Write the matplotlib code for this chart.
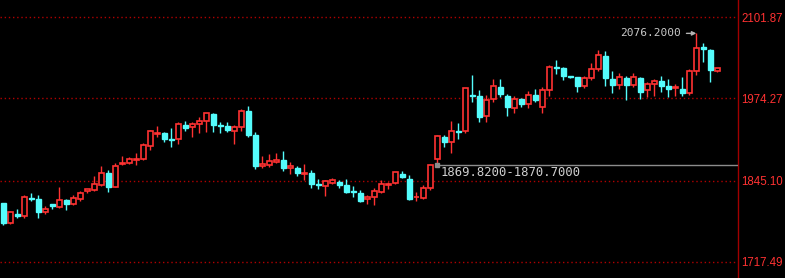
import numpy as np
import matplotlib
matplotlib.use("Agg")
import matplotlib.pyplot as plt

# Dados das velas (abertura, máxima, mínima, fechamento)
opens = [1809.9, 1779.0, 1792.7, 1790.1, 1818.3, 1816.3, 1795.9, 1808.4, 1804.2, 1814.7,
         1808.4, 1816.3, 1828.8, 1830.4, 1838.3, 1857.0, 1835.6, 1871.7, 1872.3, 1877.9,
         1879.0, 1899.9, 1918.7, 1920.3, 1910.4, 1909.9, 1932.9, 1929.7, 1934.4, 1939.1,
         1949.6, 1932.4, 1930.8, 1923.4, 1929.7, 1954.3, 1916.7, 1868.5, 1870.1, 1874.8,
         1877.5, 1864.4, 1864.9, 1856.0, 1857.0, 1839.3, 1836.2, 1841.8, 1842.9, 1837.8,
         1828.3, 1825.7, 1815.8, 1819.9, 1827.7, 1838.7, 1840.9, 1855.5, 1847.6, 1818.9,
         1818.3, 1834.0, 1879.5, 1913.5, 1905.2, 1923.4, 1923.4, 1978.9, 1977.9, 1946.0,
         1972.7, 1991.5, 1977.9, 1959.5, 1973.2, 1965.8, 1979.0, 1960.1, 1986.8, 2023.4,
         2021.8, 2009.3, 2007.7, 1994.0, 2006.6, 2020.7, 2040.6, 2004.5, 1995.1, 2006.6,
         1995.1, 2006.1, 1987.8, 1997.2, 2001.4, 1993.6, 1990.0, 1988.9, 1982.6, 2017.6,
         2054.8, 2050.0, 2017.6]
highs = [1809.9, 1797.4, 1800.6, 1822.5, 1825.7, 1822.5, 1805.3, 1808.4, 1835.1, 1816.3,
         1822.0, 1828.8, 1832.0, 1852.4, 1868.0, 1861.8, 1872.3, 1883.7, 1882.2, 1887.9,
         1904.1, 1924.5, 1930.8, 1921.4, 1927.7, 1937.1, 1938.2, 1937.1, 1944.9, 1950.7,
         1951.2, 1937.1, 1936.6, 1932.4, 1957.5, 1962.2, 1921.4, 1883.7, 1886.9, 1888.4,
         1891.6, 1874.3, 1868.0, 1871.2, 1861.8, 1847.6, 1846.6, 1849.2, 1846.1, 1848.1,
         1836.7, 1830.4, 1822.5, 1834.0, 1846.1, 1842.5, 1859.1, 1859.7, 1853.4, 1827.2,
         1837.8, 1870.7, 1916.7, 1916.7, 1938.6, 1935.5, 1990.4, 2010.8, 1986.8, 1978.9,
         2004.5, 2004.5, 1981.0, 1977.9, 1975.2, 1985.7, 1988.9, 1992.0, 2026.5, 2034.4,
         2023.4, 2009.3, 2007.7, 2009.3, 2029.7, 2050.0, 2048.5, 2017.1, 2013.9, 2009.3,
         2013.9, 2007.7, 2000.3, 2005.0, 2009.3, 2004.5, 1996.7, 2007.7, 2020.7, 2076.2,
         2061.0, 2051.1, 2021.8]
lows = [1775.5, 1777.5, 1786.0, 1786.9, 1813.6, 1786.9, 1793.2, 1801.0, 1802.6, 1799.0,
        1806.8, 1813.6, 1825.7, 1828.8, 1837.0, 1827.7, 1834.6, 1870.1, 1870.7, 1870.1,
        1877.9, 1893.6, 1913.1, 1905.7, 1898.3, 1903.0, 1923.4, 1914.0, 1920.3, 1921.9,
        1921.9, 1920.3, 1921.9, 1903.0, 1923.4, 1914.0, 1863.8, 1865.4, 1866.9, 1872.3,
        1860.7, 1855.0, 1852.8, 1845.6, 1833.1, 1831.5, 1821.4, 1840.3, 1833.1, 1826.2,
        1819.9, 1812.0, 1808.4, 1806.8, 1826.2, 1831.9, 1839.8, 1848.7, 1814.7, 1813.1,
        1815.8, 1829.9, 1869.8, 1898.3, 1888.9, 1910.9, 1920.3, 1969.0, 1937.5, 1937.5,
        1969.0, 1976.3, 1947.0, 1951.7, 1961.1, 1958.6, 1969.0, 1951.7, 1978.3, 2012.4,
        2003.4, 2006.1, 1984.6, 1990.4, 2003.4, 2017.6, 1994.0, 1983.0, 1988.9, 1972.1,
        1992.0, 1973.6, 1976.8, 1978.3, 1984.6, 1976.8, 1978.3, 1978.3, 1979.4, 2011.3,
        2031.7, 2000.3, 2016.0]
closes = [1779.0, 1795.9, 1790.1, 1818.9, 1816.7, 1795.9, 1800.6, 1805.8, 1814.7, 1808.4,
          1817.8, 1825.7, 1832.0, 1839.8, 1857.0, 1835.6, 1867.6, 1872.7, 1878.6, 1879.0,
          1900.5, 1922.5, 1919.8, 1910.4, 1908.8, 1933.9, 1928.1, 1933.9, 1938.6, 1950.7,
          1932.9, 1931.3, 1925.0, 1928.8, 1954.3, 1917.2, 1868.5, 1871.2, 1875.9, 1877.5,
          1865.4, 1868.0, 1857.0, 1857.0, 1840.3, 1837.8, 1844.5, 1845.6, 1838.7, 1827.7,
          1826.8, 1813.6, 1818.9, 1828.8, 1839.3, 1839.8, 1858.2, 1850.3, 1816.7, 1819.9,
          1833.0, 1869.1, 1915.1, 1906.1, 1922.5, 1921.9, 1990.0, 1977.4, 1945.4, 1971.1,
          1993.6, 1981.0, 1960.6, 1973.2, 1965.8, 1979.0, 1971.6, 1987.3, 2022.9, 2022.3,
          2009.7, 2007.7, 1994.0, 2006.1, 2020.2, 2042.2, 2006.6, 1995.1, 2007.7, 1995.1,
          2007.7, 1984.6, 1996.7, 2000.9, 1994.0, 1989.3, 1992.5, 1983.0, 2016.6, 2052.7,
          2052.1, 2019.1, 2021.8]

# Níveis do eixo de preços e marcações
price_levels = [2101.87, 1974.27, 1845.10, 1717.49]
gap_low, gap_high = 1869.82, 1870.70
peak_label = "2076.2000"
peak_index = 99

up_color = "#ff3232"
down_color = "#54fcfc"

o = np.array(opens)
h = np.array(highs)
l = np.array(lows)
c = np.array(closes)
x = np.arange(len(o))
up = c >= o

fig = plt.figure(figsize=(7.85, 2.78), dpi=100, facecolor="black")
ax = fig.add_axes([0, 0, 738 / 785, 1])
ax.set_facecolor("black")

# Pavios
ax.vlines(x[up], l[up], h[up], color=up_color, lw=1, zorder=1)
ax.vlines(x[~up], l[~up], h[~up], color=down_color, lw=1, zorder=1)

# Corpos: alta vazada em vermelho, baixa preenchida em ciano
body_bottom = np.minimum(o, c)
body_height = np.abs(c - o)
ax.bar(x[up], body_height[up], bottom=body_bottom[up], width=0.64,
       facecolor="black", edgecolor=up_color, linewidth=1.2, zorder=2)
ax.bar(x[~up], body_height[~up], bottom=body_bottom[~up], width=0.64,
       facecolor=down_color, edgecolor=down_color, linewidth=1, zorder=2)

# Linhas de grade pontilhadas
for lvl in price_levels:
    ax.axhline(lvl, color="#b00000", lw=1, linestyle=(0, (1, 2)), zorder=0)

# Linha do gap
gap_mid = (gap_low + gap_high) / 2
ax.hlines(gap_mid, 62, 110, color="#8c8c8c", lw=1, zorder=3)
ax.plot([62], [gap_mid], marker="s", ms=3, color="#8c8c8c", zorder=3)
ax.annotate(f"{gap_low:.4f}-{gap_high:.4f}", xy=(62.5, gap_mid), xytext=(0, -1),
            textcoords="offset points", ha="left", va="top", color="#d0d0d0",
            fontsize=8.8, family="DejaVu Sans Mono")

# Rótulo da máxima
ax.annotate(peak_label, xy=(peak_index, h[peak_index]), xytext=(96.8, h[peak_index]),
            ha="right", va="center", color="#c8c8c8", fontsize=8, family="DejaVu Sans Mono",
            arrowprops=dict(arrowstyle="-|>", color="#b4b4b4", lw=1, mutation_scale=6,
                            shrinkA=2, shrinkB=0))

# Escalas
px = 7.0
ax.set_xlim(-3.3 / px, (738 - 3.3) / px)
slope = (price_levels[0] - price_levels[-1]) / (262 - 17)
ax.set_ylim(price_levels[-1] - 16 * slope, price_levels[0] + 17 * slope)

ax.yaxis.tick_right()
ax.set_yticks(price_levels)
ax.set_yticklabels([f"{v:.2f}" for v in price_levels], color=up_color,
                   fontsize=8.3, family=["Liberation Sans", "DejaVu Sans"])
ax.tick_params(axis="y", length=0, pad=2.5)
ax.set_xticks([])

for side in ["top", "left", "bottom"]:
    ax.spines[side].set_visible(False)
ax.spines["right"].set_color("#a00000")
ax.spines["right"].set_linewidth(1)

fig.savefig("out.png", dpi=100, facecolor="black")
